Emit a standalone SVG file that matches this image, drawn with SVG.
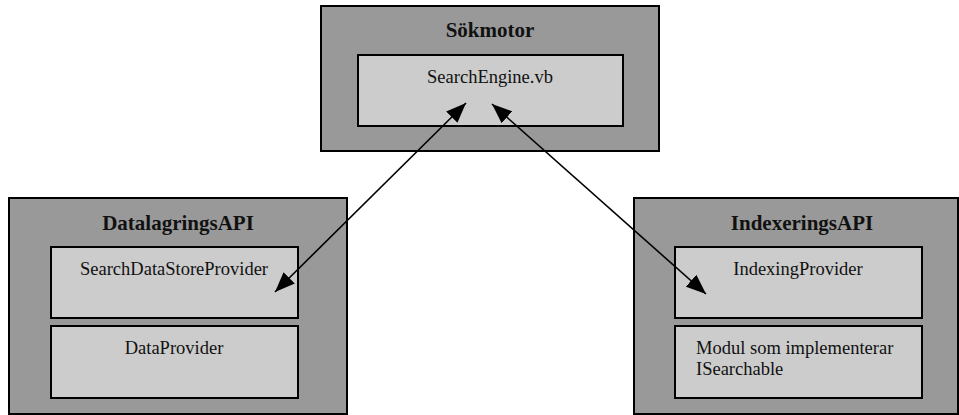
<svg xmlns="http://www.w3.org/2000/svg" width="959" height="415" viewBox="0 0 959 415">
  <style>
    .outer { fill: #999999; stroke: #000; stroke-width: 2; }
    .inner { fill: #cccccc; stroke: #000; stroke-width: 2; }
    .title { font-family: "Liberation Serif", "Times New Roman", serif; font-size: 21px; font-weight: bold; fill: #111; text-anchor: middle; }
    .label { font-family: "Liberation Serif", "Times New Roman", serif; font-size: 18.5px; fill: #111; }
    .mid { text-anchor: middle; }
    .link { stroke: #000; stroke-width: 1.6; marker-start: url(#arrow); marker-end: url(#arrow); }
  </style>
  <defs>
    <marker id="arrow" viewBox="0 0 20 16" refX="20" refY="8" markerWidth="20" markerHeight="16" markerUnits="userSpaceOnUse" orient="auto-start-reverse">
      <path d="M0,0 L20,8 L0,16 z" fill="#000"/>
    </marker>
  </defs>

  <g id="sokmotor">
    <rect class="outer" x="321" y="6" width="338" height="145"/>
    <text class="title" x="490" y="37">Sökmotor</text>
    <rect class="inner" x="358" y="55" width="265" height="71"/>
    <text class="label mid" x="490" y="83">SearchEngine.vb</text>
  </g>

  <g id="datalagringsapi">
    <rect class="outer" x="9" y="198" width="338" height="216"/>
    <text class="title" x="178" y="230">DatalagringsAPI</text>
    <rect class="inner" x="51" y="247" width="247" height="71"/>
    <text class="label mid" x="174" y="275">SearchDataStoreProvider</text>
    <rect class="inner" x="51" y="326" width="247" height="72"/>
    <text class="label mid" x="174" y="354">DataProvider</text>
  </g>

  <g id="indexeringsapi">
    <rect class="outer" x="634" y="198" width="324" height="216"/>
    <text class="title" x="802" y="230">IndexeringsAPI</text>
    <rect class="inner" x="675" y="247" width="247" height="71"/>
    <text class="label mid" x="798" y="275">IndexingProvider</text>
    <rect class="inner" x="675" y="326" width="247" height="72"/>
    <text class="label" x="696" y="354">Modul som implementerar</text>
    <text class="label" x="696" y="375">ISearchable</text>
  </g>

  <g id="connectors">
    <line class="link" x1="275" y1="292" x2="466" y2="103"/>
    <line class="link" x1="706" y1="294" x2="492" y2="104"/>
  </g>
</svg>
